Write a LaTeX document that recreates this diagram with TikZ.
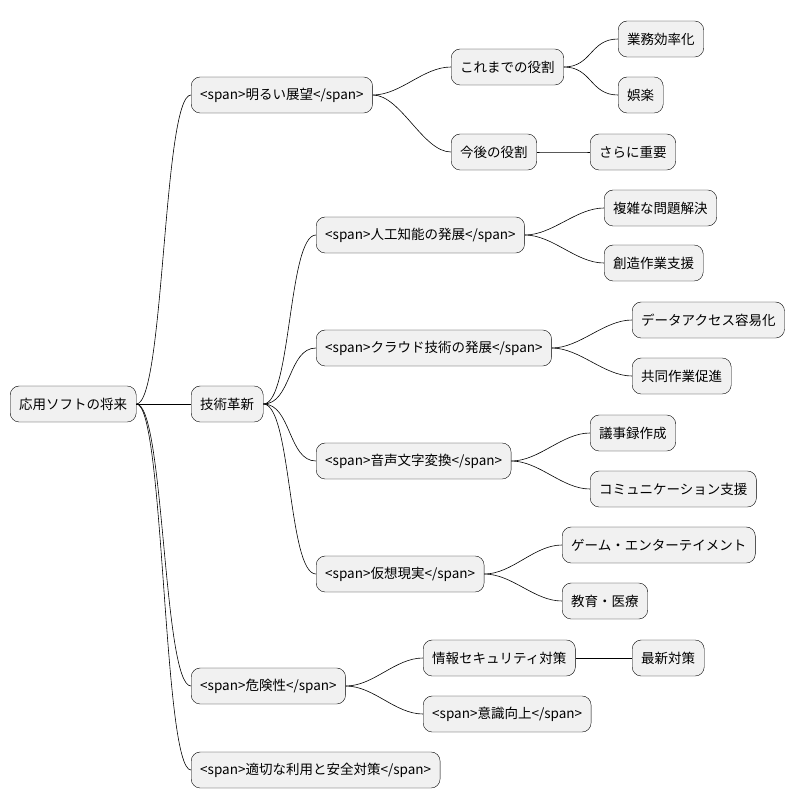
\documentclass[tikz,border=0pt]{standalone}
\usepackage{fontspec}
\setmainfont{Noto Sans CJK JP}
\usepackage{tikz}

\tikzset{
  topic/.style={draw, rounded corners=9pt, fill={rgb,255:red,241;green,241;blue,241}, anchor=west,
    minimum height=36pt, inner xsep=9pt, font=\fontsize{13.5}{15}\selectfont},
  branch/.style={line width=0.6pt}
}

\begin{document}
\begin{tikzpicture}[x=1pt,y=-1pt]
            \useasboundingbox (0,0) rectangle (803,809);
            \node [topic] (root) at (10,404) {応用ソフトの将来};

            \node [topic] (tenbo) at (191,95) {<span>明るい展望</span>};
            \node [topic] (kore) at (451,67) {これまでの役割};
            \node [topic] (gyomu) at (618,39) {業務効率化};
            \node [topic] (goraku) at (618,95) {娯楽};
            \node [topic] (kongo) at (451,152) {今後の役割};
            \node [topic] (juyo) at (590,152) {さらに重要};

            \node [topic] (gijutsu) at (191,404) {技術革新};
            \node [topic] (ai) at (316,235) {<span>人工知能の発展</span>};
            \node [topic] (fukuzatsu) at (604,208) {複雑な問題解決};
            \node [topic] (sozo) at (604,263) {創造作業支援};
            \node [topic] (cloud) at (316,348) {<span>クラウド技術の発展</span>};
            \node [topic] (data) at (632,320) {データアクセス容易化};
            \node [topic] (kyodo) at (632,376) {共同作業促進};
            \node [topic] (onsei) at (316,461) {<span>音声文字変換</span>};
            \node [topic] (gijiroku) at (590,433) {議事録作成};
            \node [topic] (comm) at (590,489) {コミュニケーション支援};
            \node [topic] (vr) at (316,574) {<span>仮想現実</span>};
            \node [topic] (game) at (562,545) {ゲーム・エンターテイメント};
            \node [topic] (kyoiku) at (562,601) {教育・医療};

            \node [topic] (kiken) at (191,686) {<span>危険性</span>};
            \node [topic] (security) at (423,658) {情報セキュリティ対策};
            \node [topic] (saishin) at (632,658) {最新対策};
            \node [topic] (ishiki) at (423,714) {<span>意識向上</span>};

            \node [topic] (tekisetsu) at (191,770) {<span>適切な利用と安全対策</span>};

            % connectors
            \foreach \p/\c in {root/tenbo, root/gijutsu, root/kiken, root/tekisetsu,
                tenbo/kore, tenbo/kongo, kore/gyomu, kore/goraku, kongo/juyo,
                gijutsu/ai, gijutsu/cloud, gijutsu/onsei, gijutsu/vr,
                ai/fukuzatsu, ai/sozo, cloud/data, cloud/kyodo,
                onsei/gijiroku, onsei/comm, vr/game, vr/kyoiku,
                kiken/security, kiken/ishiki, security/saishin}
              \draw [branch] (\p.east) .. controls +(28,0) and +(-28,0) .. (\c.west);
\end{tikzpicture}
\end{document}
